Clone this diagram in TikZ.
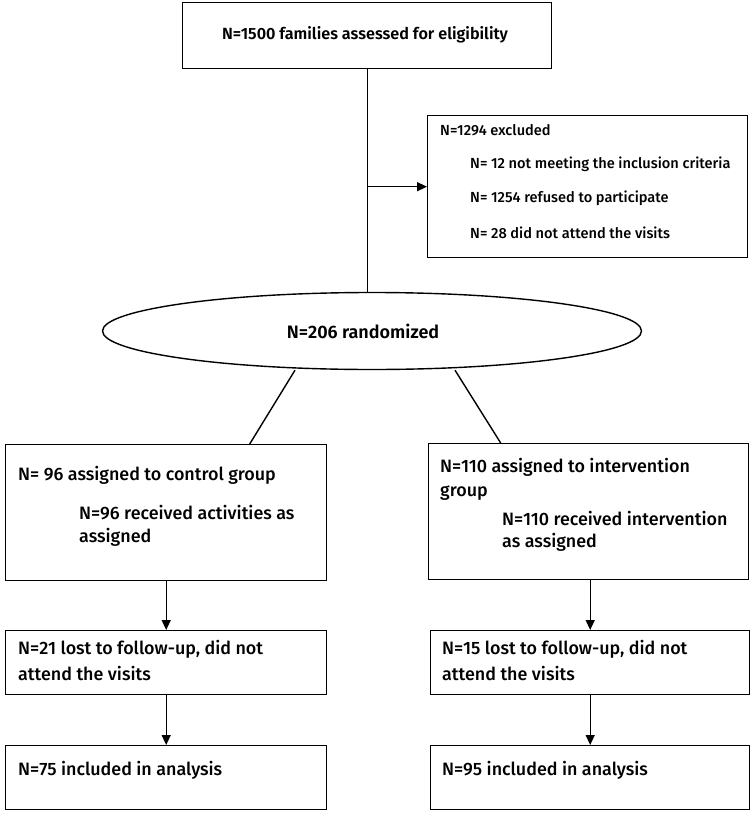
\documentclass[tikz,border=0pt]{standalone}
\usepackage{fontspec}
\setmainfont{Fira Sans}[UprightFont={* Medium}, BoldFont={* SemiBold}]
\usetikzlibrary{arrows.meta,shapes.geometric}
\begin{document}
\begin{tikzpicture}[x=1pt,y=-1pt,
  box/.style={draw, line width=1.4pt, rectangle, inner sep=0pt, anchor=north west},
  oval/.style={draw, line width=1.4pt, ellipse, inner sep=0pt},
  txt/.style={anchor=west, inner sep=0pt, font=\fontsize{17.9}{21}\selectfont},
  smalltxt/.style={anchor=west, inner sep=0pt, font=\fontsize{14.6}{17}\selectfont},
  link/.style={line width=1.4pt},
  arr/.style={line width=1.4pt, -{Triangle[length=10pt,width=9pt]}}]
\useasboundingbox (0,0) rectangle (750,816);

% enrolment
\node[box, minimum width=369pt, minimum height=66pt] (top) at (182,2) {};
\node[anchor=center, inner sep=0pt, font=\fontsize{16.2}{19}\selectfont\bfseries] (toptxt) at (365,35) {N=1500 families assessed for eligibility};

\node[box, minimum width=320pt, minimum height=142pt] (excl) at (427,115) {};
\node[smalltxt] (ex0) at (440,130) {N=1294 excluded};
\node[smalltxt] (ex1) at (470,164) {N= 12 not meeting the inclusion criteria};
\node[smalltxt] (ex2) at (470,198) {N= 1254 refused to participate};
\node[smalltxt] (ex3) at (470,233) {N= 28 did not attend the visits};

\node[oval, minimum width=539pt, minimum height=77pt] (rand) at (372,331) {};
\node[anchor=center, inner sep=0pt, font=\fontsize{18}{21}\selectfont\bfseries] (randtxt) at (363,331) {N=206 randomized};

% allocation
\node[box, minimum width=321pt, minimum height=136pt] (L1) at (5,444) {};
\node[txt] (l1a) at (18,475) {N= 96 assigned to control group};
\node[txt] (l1b) at (79,513) {N=96 received activities as};
\node[txt] (l1c) at (79,537) {assigned};

\node[box, minimum width=320pt, minimum height=136pt] (R1) at (428,443) {};
\node[txt] (r1a) at (440,467) {N=110 assigned to intervention};
\node[txt] (r1b) at (440,493) {group};
\node[txt] (r1c) at (502,518) {N=110 received intervention};
\node[txt] (r1d) at (502,542) {as assigned};

% follow-up
\node[box, minimum width=321pt, minimum height=64pt] (L2) at (5,630) {};
\node[txt] (l2a) at (18,649) {N=21 lost to follow-up, did not};
\node[txt] (l2b) at (18,673) {attend the visits};

\node[box, minimum width=319pt, minimum height=64pt] (R2) at (430,630) {};
\node[txt] (r2a) at (442,649) {N=15 lost to follow-up, did not};
\node[txt] (r2b) at (442,673) {attend the visits};

% analysis
\node[box, minimum width=321pt, minimum height=64pt] (L3) at (5,745) {};
\node[txt] (l3a) at (18,770) {N=75 included in analysis};

\node[box, minimum width=319pt, minimum height=64pt] (R3) at (430,745) {};
\node[txt] (r3a) at (442,770) {N=95 included in analysis};

% connectors
\draw[link] (top.south) -- (top.south |- rand.north);
\draw[arr] (top.south |- excl.west) -- (excl.west);
\draw[link] ([xshift=-77pt]rand.south) -- ([xshift=83.5pt]L1.north);
\draw[link] ([xshift=83pt]rand.south) -- ([xshift=-88pt]R1.north);
\draw[arr] (L1.south) -- (L2.north);
\draw[arr] (R2.north |- R1.south) -- (R2.north);
\draw[arr] (L2.south) -- (L3.north);
\draw[arr] (R2.south) -- (R3.north);
\end{tikzpicture}
\end{document}
